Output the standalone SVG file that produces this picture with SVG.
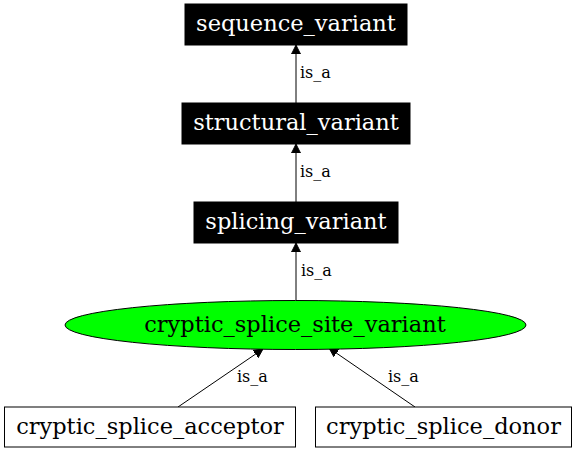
<svg xmlns="http://www.w3.org/2000/svg" width="576" height="452" viewBox="0 0 576 452">
<defs>
<marker id="arr" viewBox="0 0 10 10" refX="10" refY="5" markerWidth="9" markerHeight="12" markerUnits="userSpaceOnUse" orient="auto">
<path d="M0,0 L10,5 L0,10 Z" fill="#000" stroke="#000" stroke-width="1"/>
</marker>
<style>
.lbl{font-family:"DejaVu Serif",serif;font-size:22.5px;text-anchor:middle}
.elbl{font-family:"DejaVu Serif",serif;font-size:16px}
.dark rect{fill:#000;stroke:#000}
.dark text{fill:#fff}
.light rect{fill:#fff;stroke:#000;stroke-width:1}
.edge{stroke:#000;stroke-width:1;fill:none;marker-end:url(#arr)}
</style>
</defs>
<rect width="576" height="452" fill="#fff"/>
<g id="edges">
<line class="edge" x1="296" y1="103" x2="296" y2="45"/>
<text class="elbl" x="300" y="78">is_a</text>
<line class="edge" x1="296" y1="202" x2="296" y2="144"/>
<text class="elbl" x="300" y="177">is_a</text>
<line class="edge" x1="296" y1="300" x2="296" y2="243"/>
<text class="elbl" x="301" y="276">is_a</text>
<line class="edge" x1="178" y1="407" x2="263" y2="349"/>
<text class="elbl" x="237" y="382">is_a</text>
<line class="edge" x1="415" y1="407" x2="329" y2="348"/>
<text class="elbl" x="388" y="382">is_a</text>
</g>
<g id="sequence_variant" class="dark">
<rect x="185" y="4" width="222" height="41"/>
<text class="lbl" x="296" y="31">sequence_variant</text>
</g>
<g id="structural_variant" class="dark">
<rect x="182" y="103" width="228" height="41"/>
<text class="lbl" x="296" y="130">structural_variant</text>
</g>
<g id="splicing_variant" class="dark">
<rect x="194" y="202" width="204" height="41"/>
<text class="lbl" x="296" y="229">splicing_variant</text>
</g>
<g id="cryptic_splice_site_variant">
<ellipse cx="295.5" cy="325" rx="230.5" ry="24.5" fill="#00ff00" stroke="#000" stroke-width="1"/>
<text class="lbl" x="295" y="332">cryptic_splice_site_variant</text>
</g>
<g id="cryptic_splice_acceptor" class="light">
<rect x="4.5" y="407" width="291" height="40"/>
<text class="lbl" x="150" y="434">cryptic_splice_acceptor</text>
</g>
<g id="cryptic_splice_donor" class="light">
<rect x="315.5" y="407" width="256" height="40"/>
<text class="lbl" x="443.5" y="434">cryptic_splice_donor</text>
</g>
</svg>
